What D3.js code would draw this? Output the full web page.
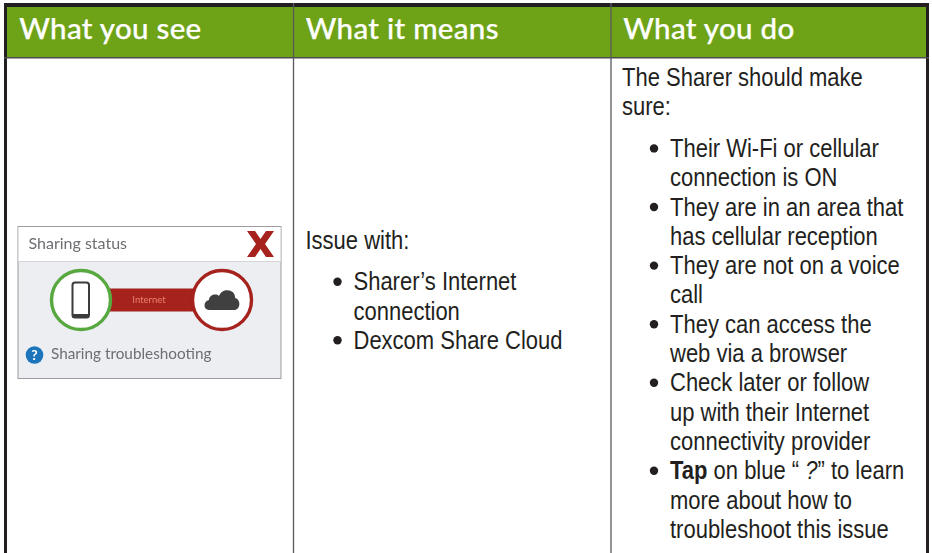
<!DOCTYPE html>
<html>
<head>
<meta charset="utf-8">
<script src="https://cdn.jsdelivr.net/npm/d3@7"></script>
<style>
  html, body { margin: 0; padding: 0; background: #fff; }
  svg { display: block; }
  .body-text { font-family: "Liberation Sans", sans-serif; font-size: 25px; fill: #231f20; }
  .head-text { font-family: Lato, "Open Sans", sans-serif; font-size: 29.5px; font-weight: 500; fill: #fff; stroke: #fff; stroke-width: .25px; letter-spacing: .3px; }
  .mock-text { font-family: Lato, sans-serif; fill: #6d6e71; }
</style>
</head>
<body>
<div id="chart"></div>
<script>
var columns = ["What you see", "What it means", "What you do"];

var meansIntro = ["Issue with:"];
var meansBullets = [
  ["Sharer\u2019s Internet", "connection"],
  ["Dexcom Share Cloud"]
];

var doIntro = ["The Sharer should make", "sure:"];
var doBullets = [
  ["Their Wi-Fi or cellular", "connection is ON"],
  ["They are in an area that", "has cellular reception"],
  ["They are not on a voice", "call"],
  ["They can access the", "web via a browser"],
  ["Check later or follow", "up with their Internet", "connectivity provider"],
  ["*Tap* on blue \u201c _?_\u201d to learn", "more about how to", "troubleshoot this issue"]
];

var width = 932, height = 553;
var svg = d3.select("#chart").append("svg")
    .attr("width", width)
    .attr("height", height);

var defs = svg.append("defs");
defs.append("filter").attr("id", "soft")
  .append("feGaussianBlur").attr("stdDeviation", 0.55);

// column left edges
var colX = d3.scaleOrdinal().domain(columns).range([7, 293.5, 611]);
var tableRight = 926, headTop = 7, headBottom = 57;

svg.append("rect")
    .attr("x", 7).attr("y", headTop)
    .attr("width", tableRight - 7).attr("height", headBottom - headTop)
    .attr("fill", "#6fa317");

// outer frame
svg.append("rect").attr("x", 4).attr("y", 3).attr("width", 925).attr("height", 4).attr("fill", "#231f20");
svg.append("rect").attr("x", 4).attr("y", 3).attr("width", 3).attr("height", height).attr("fill", "#231f20");
svg.append("rect").attr("x", tableRight).attr("y", 3).attr("width", 3).attr("height", height).attr("fill", "#231f20");
svg.append("rect").attr("x", 4).attr("y", headBottom).attr("width", 925).attr("height", 1.5).attr("fill", "#4d4d4f");

// column rules
svg.selectAll("line.col")
  .data(columns.slice(1))
  .enter().append("line")
    .attr("class", "col")
    .attr("x1", function(d) { return colX(d); })
    .attr("x2", function(d) { return colX(d); })
    .attr("y1", 3).attr("y2", height)
    .attr("stroke", "#58595b")
    .attr("stroke-width", 1.3);

svg.selectAll("text.head-text")
  .data(columns)
  .enter().append("text")
    .attr("class", "head-text")
    .attr("x", function(d) { return colX(d) + 12.3; })
    .attr("y", 39)
    .text(function(d) { return d; });

// text rows sit on a fixed line pitch
var rowY = d3.scaleLinear().domain([0, 1]).range([86, 115.3]);
// the body face in the reference is condensed, so squeeze it sideways
var squeeze = 0.88;

function drawLine(g, x, y, str) {
  var t = g.append("text").attr("class", "body-text")
      .attr("transform", "translate(" + x + "," + y + ") scale(" + squeeze + ",1)");
  str.split(/(\*[^*]+\*|_[^_]+_)/).forEach(function(s) {
    if (!s) return;
    var span = t.append("tspan");
    if (s[0] == "*") span.attr("font-weight", "bold").text(s.slice(1, -1));
    else if (s[0] == "_") span.attr("font-style", "italic").text(s.slice(1, -1));
    else span.text(s);
  });
}

function drawBlock(x, intro, bullets, startRow, gapRows) {
  var g = svg.append("g");
  var row = startRow;
  intro.forEach(function(s) {
    drawLine(g, x, rowY(row), s);
    row += 1;
  });
  row += gapRows;
  bullets.forEach(function(lines) {
    g.append("circle")
      .attr("cx", x + 32).attr("cy", rowY(row) - 8.5).attr("r", 4.2)
      .attr("fill", "#231f20");
    lines.forEach(function(s) {
      drawLine(g, x + 48, rowY(row), s);
      row += 1;
    });
  });
}

drawBlock(colX(columns[2]) + 11, doIntro, doBullets, 0, 0.42);
drawBlock(colX(columns[1]) + 12, meansIntro, meansBullets, 5.57, 0.4);

// the small screenshot in the first column
var mock = svg.append("g").attr("filter", "url(#soft)");
mock.append("rect").attr("x", 18).attr("y", 226.5).attr("width", 263).attr("height", 152)
    .attr("fill", "#eceef2").attr("stroke", "#9a9c9e").attr("stroke-width", 1);
mock.append("rect").attr("x", 18.5).attr("y", 227).attr("width", 262).attr("height", 34.5).attr("fill", "#fff");
mock.append("line").attr("x1", 18).attr("x2", 281).attr("y1", 261.5).attr("y2", 261.5)
    .attr("stroke", "#d4d5d7").attr("stroke-width", 1);
mock.append("text").attr("class", "mock-text").attr("x", 28.5).attr("y", 248.5)
    .attr("font-size", 16).text("Sharing status");
mock.append("path").attr("d", "M247 231L255 231L260.5 239L266 231L274 231L265 244L274 257L266 257L260.5 249L255 257L247 257L256 244Z")
    .attr("fill", "#a6201f");
mock.append("rect").attr("x", 108).attr("y", 288.5).attr("width", 90).attr("height", 23).attr("fill", "#a6201f");
mock.append("text").attr("x", 149).attr("y", 303).attr("text-anchor", "middle")
    .attr("font-family", "Lato, sans-serif").attr("font-size", 9.5).attr("fill", "#e8836d").text("Internet");
mock.append("circle").attr("cx", 81).attr("cy", 300).attr("r", 29.5)
    .attr("fill", "#fff").attr("stroke", "#59a83f").attr("stroke-width", 3.4);
mock.append("circle").attr("cx", 222).attr("cy", 300).attr("r", 29.5)
    .attr("fill", "#fff").attr("stroke", "#a6201f").attr("stroke-width", 3.4);
mock.append("rect").attr("x", 72.5).attr("y", 282.5).attr("width", 16.5).attr("height", 35).attr("rx", 2.5)
    .attr("fill", "#fff").attr("stroke", "#3a3a3c").attr("stroke-width", 2);
mock.append("rect").attr("x", 73).attr("y", 314).attr("width", 15.5).attr("height", 3.5).attr("fill", "#3a3a3c");
mock.append("path").attr("d", "M209 310C203 310 203 301 209 300C209 295 216 293 219 296C222 287 236 289 235 298C241 299 241 310 234 310Z")
    .attr("fill", "#3f3f41");
mock.append("circle").attr("cx", 34.5).attr("cy", 355).attr("r", 8.8).attr("fill", "#1b75bb");
mock.append("text").attr("x", 34.5).attr("y", 360).attr("text-anchor", "middle")
    .attr("font-family", "Lato, sans-serif").attr("font-weight", "bold").attr("font-size", 14).attr("fill", "#fff").text("?");
mock.append("text").attr("class", "mock-text").attr("x", 51).attr("y", 359)
    .attr("font-size", 15.3).text("Sharing troubleshooting");
</script>
</body>
</html>
